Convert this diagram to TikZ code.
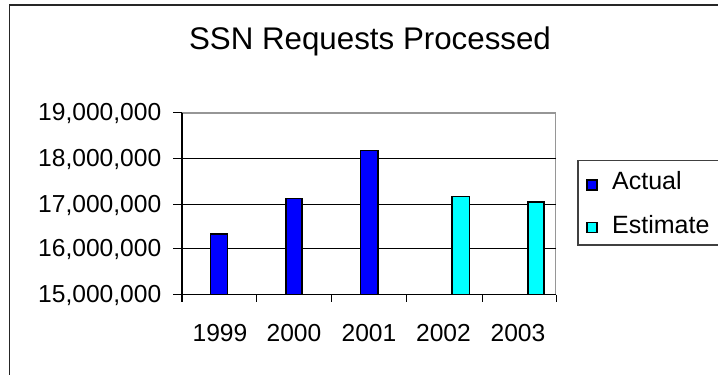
\documentclass[tikz,border=0pt]{standalone}
\usepackage{fontspec}
\setmainfont{Liberation Sans}
\definecolor{barblue}{RGB}{0,0,255}
\definecolor{barcyan}{RGB}{0,255,255}
\definecolor{plotgrey}{RGB}{150,150,150}
\tikzset{
  ylab/.style={anchor=base east, inner sep=0pt, font=\fontsize{24.6}{29}\selectfont},
  xlab/.style={anchor=base, inner sep=0pt, font=\fontsize{24.6}{29}\selectfont},
  leglab/.style={anchor=base west, inner sep=0pt, font=\fontsize{25}{30}\selectfont},
  bar/.style={draw=black, line width=1.4pt},
  grid/.style={draw=black, line width=1pt},
}
\begin{document}
\begin{tikzpicture}[x=1pt,y=-1pt]
\useasboundingbox (0,0) rectangle (718,375);
\begin{scope}
\clip (0,0) rectangle (718,375);
% outer frame
\draw[line width=1.6pt, draw=black!85] (9.5,400) -- (9.5,4.8) -- (730,4.8);
% title
\node[anchor=base, inner sep=0pt, font=\fontsize{31.3}{37}\selectfont] (title) at (370,49) {SSN Requests Processed};
% plot border (grey)
\draw[plotgrey, line width=1.6pt] (182,112.7) -- (555.5,112.7) -- (555.5,294.5);
% gridlines
\foreach \yy in {158.3,204,248.5} \draw[grid] (182,\yy) -- (555.5,\yy);
% bars
\fill[barblue] (210.5,294.5) rectangle (227.5,234);
\draw[bar] (210.5,294.5) -- (210.5,234) -- (227.5,234) -- (227.5,294.5);
\fill[barblue] (286,294.5) rectangle (302,198.3);
\draw[bar] (286,294.5) -- (286,198.3) -- (302,198.3) -- (302,294.5);
\fill[barblue] (360.5,294.5) rectangle (378,150.7);
\draw[bar] (360.5,294.5) -- (360.5,150.7) -- (378,150.7) -- (378,294.5);
\fill[barcyan] (452,294.5) rectangle (469.3,196.5);
\draw[bar] (452,294.5) -- (452,196.5) -- (469.3,196.5) -- (469.3,294.5);
\fill[barcyan] (528,294.5) rectangle (544,202);
\draw[bar] (528,294.5) -- (528,202) -- (544,202) -- (544,294.5);
% axes
\draw[black, line width=1.2pt] (182,112.7) -- (182,302);
\draw[black, line width=1.2pt] (173,294.5) -- (556,294.5);
\foreach \yy in {112.7,158.3,204,248.5} \draw[black, line width=1pt] (173,\yy) -- (182,\yy);
\foreach \xx in {256,331.5,406,482,556} \draw[black, line width=1pt] (\xx,294.5) -- (\xx,302);
% y labels
\node[ylab] (y19) at (161.5,120.8) {19,000,000};
\node[ylab] (y18) at (161.5,166.6) {18,000,000};
\node[ylab] (y17) at (161.5,212.3) {17,000,000};
\node[ylab] (y16) at (161.5,256.8) {16,000,000};
\node[ylab] (y15) at (161.5,302.8) {15,000,000};
% x labels
\node[xlab] (x1) at (220,341.5) {1999};
\node[xlab] (x2) at (294,341.5) {2000};
\node[xlab] (x3) at (369,341.5) {2001};
\node[xlab] (x4) at (443.5,341.5) {2002};
\node[xlab] (x5) at (518,341.5) {2003};
% legend
\draw[line width=1.2pt, draw=black!75] (730,160.7) -- (578,160.7) -- (578,245) -- (730,245);
\draw[line width=1.3pt, fill=barblue] (587,180) rectangle (597,190);
\draw[line width=1.3pt, fill=barcyan] (587,222.5) rectangle (597,232.5);
\node[leglab] (lact) at (612,189.3) {Actual};
\node[leglab] (lest) at (612,233.3) {Estimate};
\end{scope}
\end{tikzpicture}
\end{document}
